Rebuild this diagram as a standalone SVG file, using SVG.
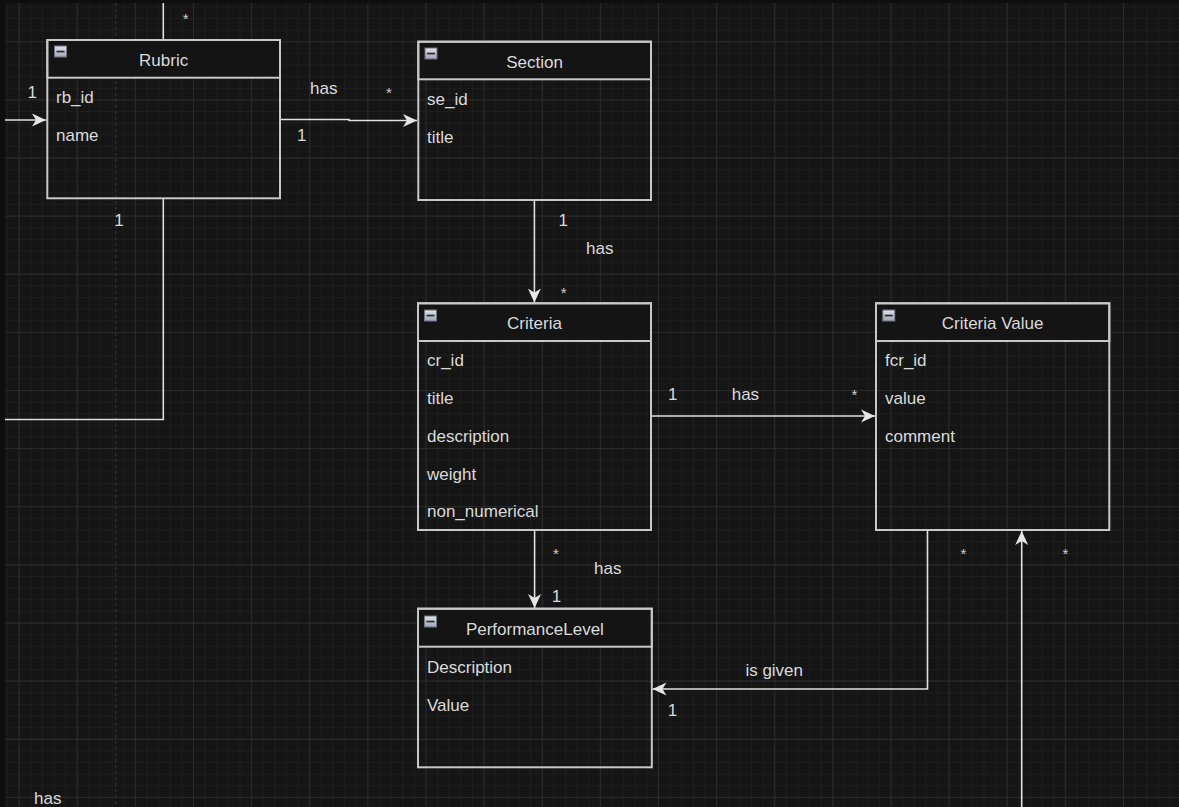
<svg xmlns="http://www.w3.org/2000/svg" width="1179" height="807" viewBox="0 0 1179 807">
  <defs>
    <pattern id="minor" patternUnits="userSpaceOnUse" x="6.975" y="6.375" width="11.625" height="11.625">
      <path d="M0 0.5 H11.625 M0.5 0 V11.625" stroke="#1d1d1d" stroke-width="1" fill="none"/>
    </pattern>
    <pattern id="major" patternUnits="userSpaceOnUse" x="18.6" y="41.25" width="58.125" height="58.125">
      <path d="M0 0.5 H58.125 M0.5 0 V58.125" stroke="#2a2a2a" stroke-width="1" fill="none"/>
    </pattern>
    <linearGradient id="iconGrad" x1="0" y1="0" x2="0" y2="1">
      <stop offset="0" stop-color="#e2e4ec"/>
      <stop offset="1" stop-color="#a0a4b2"/>
    </linearGradient>
    <marker id="arrow" markerUnits="userSpaceOnUse" markerWidth="15" markerHeight="14" refX="14" refY="7" orient="auto">
      <path d="M0,0.5 L14,7 L0,13.5 L4,7 Z" fill="#e6e6e6"/>
    </marker>
    <g id="icon">
      <rect x="0.5" y="0.5" width="12" height="11" fill="url(#iconGrad)" stroke="#6f7380" stroke-width="1"/>
      <rect x="2.5" y="5.2" width="8" height="1.7" fill="#2a2a2a"/>
    </g>
  </defs>
  <style>
    .box { fill: none; stroke: #c8c8c8; stroke-width: 2; }
    .hdr { fill: #141414; stroke: #c8c8c8; stroke-width: 2; }
    .title { font-family: "Liberation Sans", Arial, sans-serif; font-size: 17px; fill: #dadada; text-anchor: middle; }
    .attr { font-family: "Liberation Sans", Arial, sans-serif; font-size: 17px; fill: #dadada; }
    .lbl { font-family: "Liberation Sans", Arial, sans-serif; font-size: 17px; fill: #dadada; }
    .mult { font-family: "Liberation Sans", Arial, sans-serif; font-size: 17px; fill: #dadada; text-anchor: middle; }
    .star { font-family: "Liberation Sans", Arial, sans-serif; font-size: 15px; fill: #cfcfcf; text-anchor: middle; }
    .conn { fill: none; stroke: #e0e0e0; stroke-width: 1.6; }
  </style>

  <!-- canvas -->
  <rect x="0" y="0" width="1179" height="807" fill="#0e0e0e"/>
  <rect x="5" y="3" width="1174" height="804" fill="#151515"/>
  <rect x="5" y="3" width="1174" height="804" fill="url(#minor)"/>
  <rect x="5" y="3" width="1174" height="804" fill="url(#major)"/>
  <line x1="115.7" y1="3" x2="115.7" y2="807" stroke="#3a3a3a" stroke-width="1" stroke-dasharray="3 3"/>

  <!-- connectors -->
  <g id="connectors">
    <path class="conn" d="M163.3 3 V40"/>
    <path class="conn" d="M5 120 H46" marker-end="url(#arrow)"/>
    <path class="conn" d="M163.3 198 V419.5 H5"/>
    <path class="conn" d="M280 119.5 H349 V120.5 H417" marker-end="url(#arrow)"/>
    <path class="conn" d="M534.4 200 V302.5" marker-end="url(#arrow)"/>
    <path class="conn" d="M651 416 H875" marker-end="url(#arrow)"/>
    <path class="conn" d="M534.6 530 V608" marker-end="url(#arrow)"/>
    <path class="conn" d="M927.5 530 V689 H652.5" marker-end="url(#arrow)"/>
    <path class="conn" d="M1021.7 807 V531" marker-end="url(#arrow)"/>

    <text class="star" x="185.7" y="23.6">*</text>
    <text class="mult" x="32.3" y="98.3">1</text>
    <text class="mult" x="119" y="225.5">1</text>
    <text class="lbl" x="310" y="94.3">has</text>
    <text class="star" x="389" y="98">*</text>
    <text class="mult" x="301.7" y="141">1</text>
    <text class="mult" x="563.3" y="225.7">1</text>
    <text class="lbl" x="586" y="254.3">has</text>
    <text class="star" x="563.7" y="298">*</text>
    <text class="mult" x="672.7" y="400">1</text>
    <text class="lbl" x="731.7" y="400">has</text>
    <text class="star" x="854.3" y="399.6">*</text>
    <text class="star" x="556" y="558.6">*</text>
    <text class="lbl" x="594" y="574.3">has</text>
    <text class="mult" x="556.4" y="601.7">1</text>
    <text class="lbl" x="745.4" y="676">is given</text>
    <text class="mult" x="672.5" y="715.7">1</text>
    <text class="star" x="963.3" y="559.3">*</text>
    <text class="star" x="1065.3" y="559.3">*</text>
    <text class="lbl" x="34" y="804">has</text>
  </g>

  <!-- Rubric -->
  <g id="rubric">
    <rect class="hdr" x="47.3" y="40" width="232.7" height="37.7"/>
    <rect class="box" x="47.3" y="40" width="232.7" height="158.3"/>
    <use href="#icon" x="54" y="45.5"/>
    <text class="title" x="163.6" y="65.7">Rubric</text>
    <text class="attr" x="56" y="103.3">rb_id</text>
    <text class="attr" x="56" y="141">name</text>
  </g>

  <!-- Section -->
  <g id="section">
    <rect class="hdr" x="418.3" y="41.7" width="232.7" height="37.6"/>
    <rect class="box" x="418.3" y="41.7" width="232.7" height="158.3"/>
    <use href="#icon" x="424.5" y="47.5"/>
    <text class="title" x="534.6" y="67.7">Section</text>
    <text class="attr" x="427" y="105">se_id</text>
    <text class="attr" x="427" y="143.3">title</text>
  </g>

  <!-- Criteria -->
  <g id="criteria">
    <rect class="hdr" x="418" y="303.3" width="233" height="37.7"/>
    <rect class="box" x="418" y="303.3" width="233" height="226.7"/>
    <use href="#icon" x="424" y="309.5"/>
    <text class="title" x="534.5" y="329.3">Criteria</text>
    <text class="attr" x="427" y="366">cr_id</text>
    <text class="attr" x="427" y="404">title</text>
    <text class="attr" x="427" y="442">description</text>
    <text class="attr" x="427" y="479.5">weight</text>
    <text class="attr" x="427" y="517">non_numerical</text>
  </g>

  <!-- Criteria Value -->
  <g id="criteria-value">
    <rect class="hdr" x="876" y="303.3" width="233.3" height="37.7"/>
    <rect class="box" x="876" y="303.3" width="233.3" height="226.7"/>
    <use href="#icon" x="882.3" y="309.5"/>
    <text class="title" x="992.6" y="329">Criteria Value</text>
    <text class="attr" x="885" y="366">fcr_id</text>
    <text class="attr" x="885" y="404.3">value</text>
    <text class="attr" x="885" y="441.7">comment</text>
  </g>

  <!-- PerformanceLevel -->
  <g id="performance-level">
    <rect class="hdr" x="418" y="608.7" width="233.8" height="38"/>
    <rect class="box" x="418" y="608.7" width="233.8" height="158.6"/>
    <use href="#icon" x="424" y="615.5"/>
    <text class="title" x="534.9" y="635">PerformanceLevel</text>
    <text class="attr" x="427" y="672.7">Description</text>
    <text class="attr" x="427" y="710.7">Value</text>
  </g>
</svg>
